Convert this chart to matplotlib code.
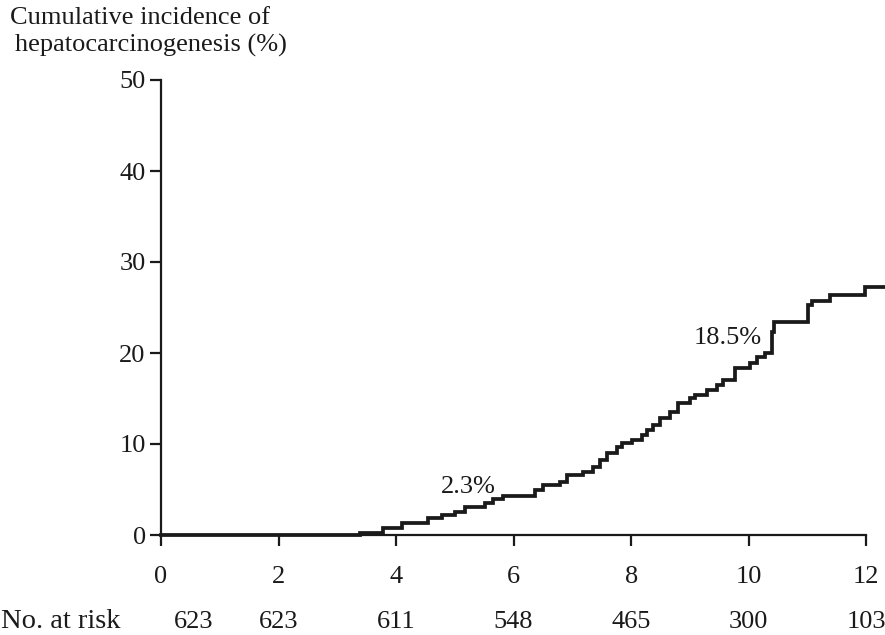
import matplotlib
matplotlib.use("Agg")
import matplotlib.pyplot as plt
import matplotlib.transforms as mtransforms

plt.rcParams['font.family'] = ['Liberation Serif', 'DejaVu Serif']

# Step curve: event times (years) and cumulative incidence (%) after each step
times = [0, 3.38, 3.78, 4.10, 4.54, 4.78, 5.00, 5.17, 5.51, 5.65, 5.82, 6.37, 6.50,
         6.79, 6.91, 7.18, 7.35, 7.47, 7.59, 7.76, 7.85, 8.02, 8.19, 8.27, 8.37,
         8.49, 8.66, 8.80, 9.00, 9.09, 9.29, 9.46, 9.57, 9.77, 10.02, 10.14, 10.28,
         10.40, 10.43, 11.01, 11.08, 11.39, 11.98, 12.32]
incidence = [0, 0.25, 0.77, 1.3, 1.85, 2.2, 2.5, 3.05, 3.5, 3.95, 4.3, 4.95, 5.5,
             5.8, 6.6, 6.9, 7.45, 8.2, 9.0, 9.65, 10.1, 10.45, 11.0, 11.5, 12.1,
             12.85, 13.5, 14.5, 15.05, 15.4, 15.95, 16.5, 17.0, 18.35, 18.9, 19.6, 20.0,
             22.3, 23.4, 25.25, 25.7, 26.4, 27.3, 27.3]

xticks = [0, 2, 4, 6, 8, 10, 12]
yticks = [0, 10, 20, 30, 40, 50]
at_risk = [623, 623, 611, 548, 465, 300, 103]

note_text = ["2.3%", "18.5%"]
note_x = [5.23, 9.65]
note_y = [5.3, 21.6]

FS = 19
INK = '#1a1a1a'

fig = plt.figure(figsize=(8.85, 6.35), dpi=100)
ax = fig.add_axes([161/885, 100/635, 724/885, 455/635])

ax.step(times, incidence, where='post', color=INK, lw=2.7, clip_on=False,
        solid_joinstyle='miter')

ax.set_xlim(0, 12.32)
ax.set_ylim(0, 50)
ax.spines['top'].set_visible(False)
ax.spines['right'].set_visible(False)
for s in ('left', 'bottom'):
    ax.spines[s].set_linewidth(1.6)
    ax.spines[s].set_color(INK)
ax.spines['bottom'].set_bounds(0, 12)
ax.set_xticks(xticks)
ax.set_yticks(yticks)
ax.tick_params(axis='x', direction='out', length=8, width=1.6, pad=14,
               labelsize=FS, colors=INK)
ax.tick_params(axis='y', direction='out', length=8, width=1.6, pad=3,
               labelsize=FS, colors=INK)

for xv, yv, txt in zip(note_x, note_y, note_text):
    ax.text(xv, yv, txt, fontsize=FS, ha='center', va='center', color=INK)

trans = mtransforms.blended_transform_factory(ax.transData, ax.transAxes)
for i, (xv, n) in enumerate(zip(xticks, at_risk)):
    # the first count is nudged right to clear the "No. at risk" caption
    dx = 0.56 if i == 0 else 0.0
    ax.text(xv + dx, -0.192, str(n), transform=trans, ha='center', va='center',
            fontsize=FS, color=INK)
fig.text(1 / 885, 1 - 622 / 635, "No. at risk", ha='left', va='center',
         fontsize=20.5, color=INK)

fig.text(10 / 885, 1 - 18 / 635, "Cumulative incidence of", ha='left',
         va='center', fontsize=FS, color=INK)
fig.text(15 / 885, 1 - 45 / 635, "hepatocarcinogenesis (%)", ha='left',
         va='center', fontsize=FS, color=INK)

fig.savefig("out.png", dpi=100)
